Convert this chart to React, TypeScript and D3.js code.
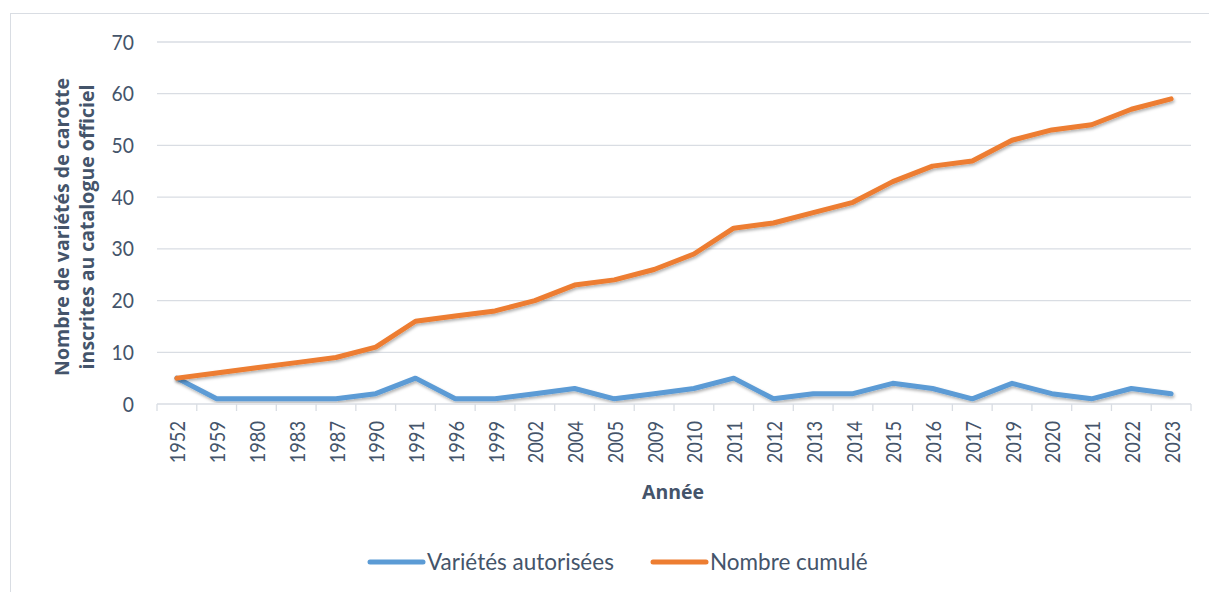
import React, { useEffect, useRef } from "react";
import * as d3 from "d3";

const years = ["1952", "1959", "1980", "1983", "1987", "1990", "1991", "1996", "1999", "2002", "2004", "2005", "2009", "2010", "2011", "2012", "2013", "2014", "2015", "2016", "2017", "2019", "2020", "2021", "2022", "2023"];
const autorisees = [5, 1, 1, 1, 1, 2, 5, 1, 1, 2, 3, 1, 2, 3, 5, 1, 2, 2, 4, 3, 1, 4, 2, 1, 3, 2];
const cumul = [5, 6, 7, 8, 9, 11, 16, 17, 18, 20, 23, 24, 26, 29, 34, 35, 37, 39, 43, 46, 47, 51, 53, 54, 57, 59];
const yTicks = [0, 10, 20, 30, 40, 50, 60, 70];

const seriesList = [
  { name: "Variétés autorisées", values: autorisees, color: "#5B9BD5" },
  { name: "Nombre cumulé", values: cumul, color: "#ED7D31" },
];

const App = () => {
  const ref = useRef<SVGSVGElement>(null);

  useEffect(() => {
    const width = 1209,
      height = 592;
    const textColor = "#44546A";
    const font = "Lato, 'Open Sans', sans-serif";
    const boldFont = "'Open Sans', Lato, sans-serif";
    // axis digits are narrower than Lato, so squeeze them a bit
    const squeeze = 0.87;

    const svg = d3.select(ref.current);
    svg.selectAll("*").remove();
    svg.attr("width", width).attr("height", height);

    // outer frame
    svg
      .append("rect")
      .attr("x", 10.5)
      .attr("y", 13.5)
      .attr("width", width)
      .attr("height", height)
      .attr("fill", "white")
      .attr("stroke", "#D9DDE3");

    const defs = svg.append("defs");
    const filter = defs
      .append("filter")
      .attr("id", "shadow")
      .attr("x", "-5%")
      .attr("y", "-20%")
      .attr("width", "110%")
      .attr("height", "140%");
    filter
      .append("feDropShadow")
      .attr("dx", 1)
      .attr("dy", 2)
      .attr("stdDeviation", 1.5)
      .attr("flood-color", "#000")
      .attr("flood-opacity", 0.3);

    const x = d3.scaleBand().domain(years).range([157, 1191]);
    const y = d3.scaleLinear().domain([0, 70]).range([404, 42]);

    // gridlines
    svg
      .append("g")
      .selectAll("line")
      .data(yTicks)
      .enter()
      .append("line")
      .attr("x1", 157)
      .attr("x2", 1191)
      .attr("y1", (d) => y(d))
      .attr("y2", (d) => y(d))
      .attr("stroke", "#D9DDE3")
      .attr("stroke-width", 1.3);

    // y tick labels
    svg
      .append("g")
      .selectAll("text")
      .data(yTicks)
      .enter()
      .append("text")
      .attr("transform", (d) => `translate(134,${y(d)}) scale(0.92,1)`)
      .attr("dy", "0.36em")
      .attr("text-anchor", "end")
      .attr("fill", textColor)
      .style("font-family", font)
      .style("font-size", "21px")
      .text((d) => d);

    // x axis tick marks at band edges
    const edges = years.map((d) => x(d) as number).concat([1191]);
    svg
      .append("g")
      .selectAll("line")
      .data(edges)
      .enter()
      .append("line")
      .attr("x1", (d) => d)
      .attr("x2", (d) => d)
      .attr("y1", 404)
      .attr("y2", 411)
      .attr("stroke", "#D9DDE3")
      .attr("stroke-width", 1.3);

    // x tick labels
    svg
      .append("g")
      .selectAll("text")
      .data(years)
      .enter()
      .append("text")
      .attr("transform", (d) => `translate(${(x(d) as number) + x.bandwidth() / 2 + 1},421) rotate(-90) scale(${squeeze},1)`)
      .attr("dy", "0.36em")
      .attr("text-anchor", "end")
      .attr("fill", textColor)
      .style("font-family", font)
      .style("font-size", "21px")
      .text((d) => d);

    // lines
    const line = d3
      .line<number>()
      .x((_, i) => (x(years[i]) as number) + x.bandwidth() / 2)
      .y((d) => y(d));

    svg
      .append("g")
      .selectAll("path")
      .data(seriesList)
      .enter()
      .append("path")
      .attr("d", (d) => line(d.values))
      .attr("fill", "none")
      .attr("stroke", (d) => d.color)
      .attr("stroke-width", 5)
      .attr("stroke-linecap", "round")
      .attr("stroke-linejoin", "round")
      .attr("filter", "url(#shadow)");

    // axis titles
    const yTitle = svg
      .append("text")
      .attr("transform", "translate(74,227) rotate(-90)")
      .attr("text-anchor", "middle")
      .attr("fill", textColor)
      .style("font-family", boldFont)
      .style("font-size", "19.5px")
      .style("font-weight", "bold");
    yTitle.append("tspan").attr("x", 0).attr("dy", "-0.25em").text("Nombre de variétés de carotte");
    yTitle.append("tspan").attr("x", 0).attr("dy", "1.25em").text("inscrites au catalogue officiel");

    svg
      .append("text")
      .attr("x", 673)
      .attr("y", 499)
      .attr("text-anchor", "middle")
      .attr("fill", textColor)
      .style("font-family", boldFont)
      .style("font-size", "19.5px")
      .style("font-weight", "bold")
      .text("Année");

    // legend
    const legendX = [368, 651];
    const legend = svg
      .append("g")
      .selectAll("g")
      .data(seriesList)
      .enter()
      .append("g")
      .attr("transform", (_, i) => `translate(${legendX[i]},562)`);
    legend
      .append("line")
      .attr("x1", 2)
      .attr("x2", 55)
      .attr("stroke", (d) => d.color)
      .attr("stroke-width", 5)
      .attr("stroke-linecap", "round");
    legend
      .append("text")
      .attr("x", 59)
      .attr("dy", "0.36em")
      .attr("fill", textColor)
      .style("font-family", font)
      .style("font-size", "22.5px")
      .text((d) => d.name);
  }, []);

  return <svg ref={ref} style={{ position: "fixed", top: 0, left: 0 }}></svg>;
};

export default App;
